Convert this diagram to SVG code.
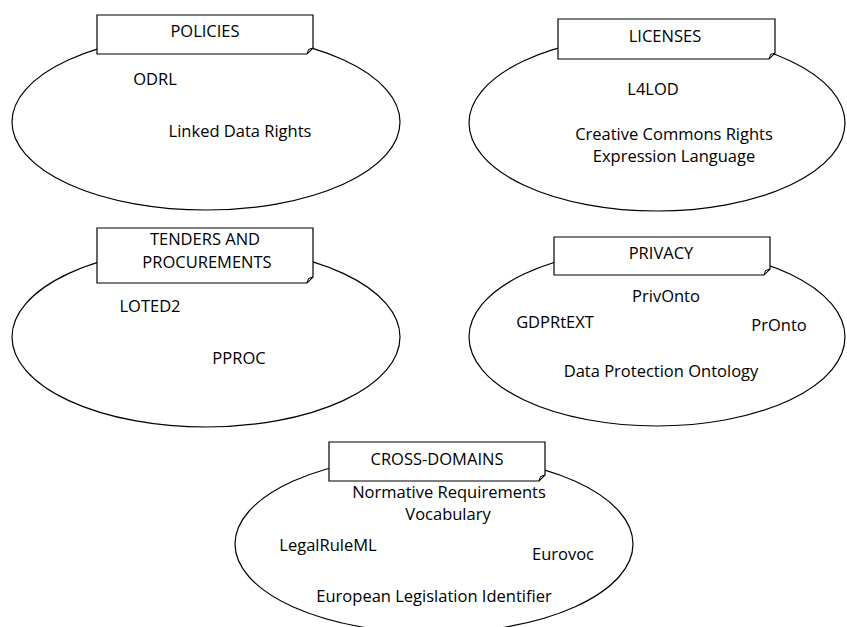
<svg xmlns="http://www.w3.org/2000/svg" width="847" height="627" viewBox="0 0 847 627">
<style>
.ell{fill:#fff;stroke:#000;stroke-width:1.2}
.box{fill:#fff;stroke:#000;stroke-width:1.2;stroke-linejoin:miter}
.fold{fill:#d0d0d0;stroke:#000;stroke-width:1}
text{font-family:"Open Sans","Liberation Sans",Arial,sans-serif;font-size:16.5px;fill:#000;text-anchor:middle}
</style>
<rect width="847" height="627" fill="#fff"/>
<g id="connectors"></g>
<g id="policies">
<ellipse class="ell" cx="206" cy="122" rx="194" ry="88"/>
<path class="box" d="M97,15 H313 V48 L307,54 H97 Z"/>
<path class="fold" d="M307,54 L308.5,49.5 L313,48 Z"/>
<text x="205" y="37">POLICIES</text>
<text x="155" y="85">ODRL</text>
<text x="240" y="137">Linked Data Rights</text>
</g>
<g id="licenses">
<ellipse class="ell" cx="657" cy="123" rx="188" ry="88"/>
<path class="box" d="M558,19 H775 V53 L769,59 H558 Z"/>
<path class="fold" d="M769,59 L770.5,54.5 L775,53 Z"/>
<text x="665" y="42">LICENSES</text>
<text x="653" y="95">L4LOD</text>
<text x="674" y="140">Creative Commons Rights</text>
<text x="674" y="162">Expression Language</text>
</g>
<g id="tenders">
<ellipse class="ell" cx="206" cy="337" rx="194" ry="90"/>
<path class="box" d="M97,228 H313 V277 L307,283 H97 Z"/>
<path class="fold" d="M307,283 L308.5,278.5 L313,277 Z"/>
<text x="205" y="245">TENDERS AND</text>
<text x="207" y="268">PROCUREMENTS</text>
<text x="150" y="312">LOTED2</text>
<text x="239" y="364">PPROC</text>
</g>
<g id="privacy">
<ellipse class="ell" cx="657" cy="337" rx="188" ry="89"/>
<path class="box" d="M554,237 H770 V269 L764,275 H554 Z"/>
<path class="fold" d="M764,275 L765.5,270.5 L770,269 Z"/>
<text x="661" y="259">PRIVACY</text>
<text x="666" y="302">PrivOnto</text>
<text x="555" y="328">GDPRtEXT</text>
<text x="779" y="331">PrOnto</text>
<text x="661" y="377">Data Protection Ontology</text>
</g>
<g id="crossdomains">
<ellipse class="ell" cx="434" cy="544" rx="199" ry="89"/>
<path class="box" d="M329,442 H545 V475 L539,481 H329 Z"/>
<path class="fold" d="M539,481 L540.5,476.5 L545,475 Z"/>
<text x="437" y="465">CROSS-DOMAINS</text>
<text x="449" y="498">Normative Requirements</text>
<text x="448" y="520">Vocabulary</text>
<text x="328" y="551">LegalRuleML</text>
<text x="563" y="560">Eurovoc</text>
<text x="434" y="602">European Legislation Identifier</text>
</g>
</svg>
